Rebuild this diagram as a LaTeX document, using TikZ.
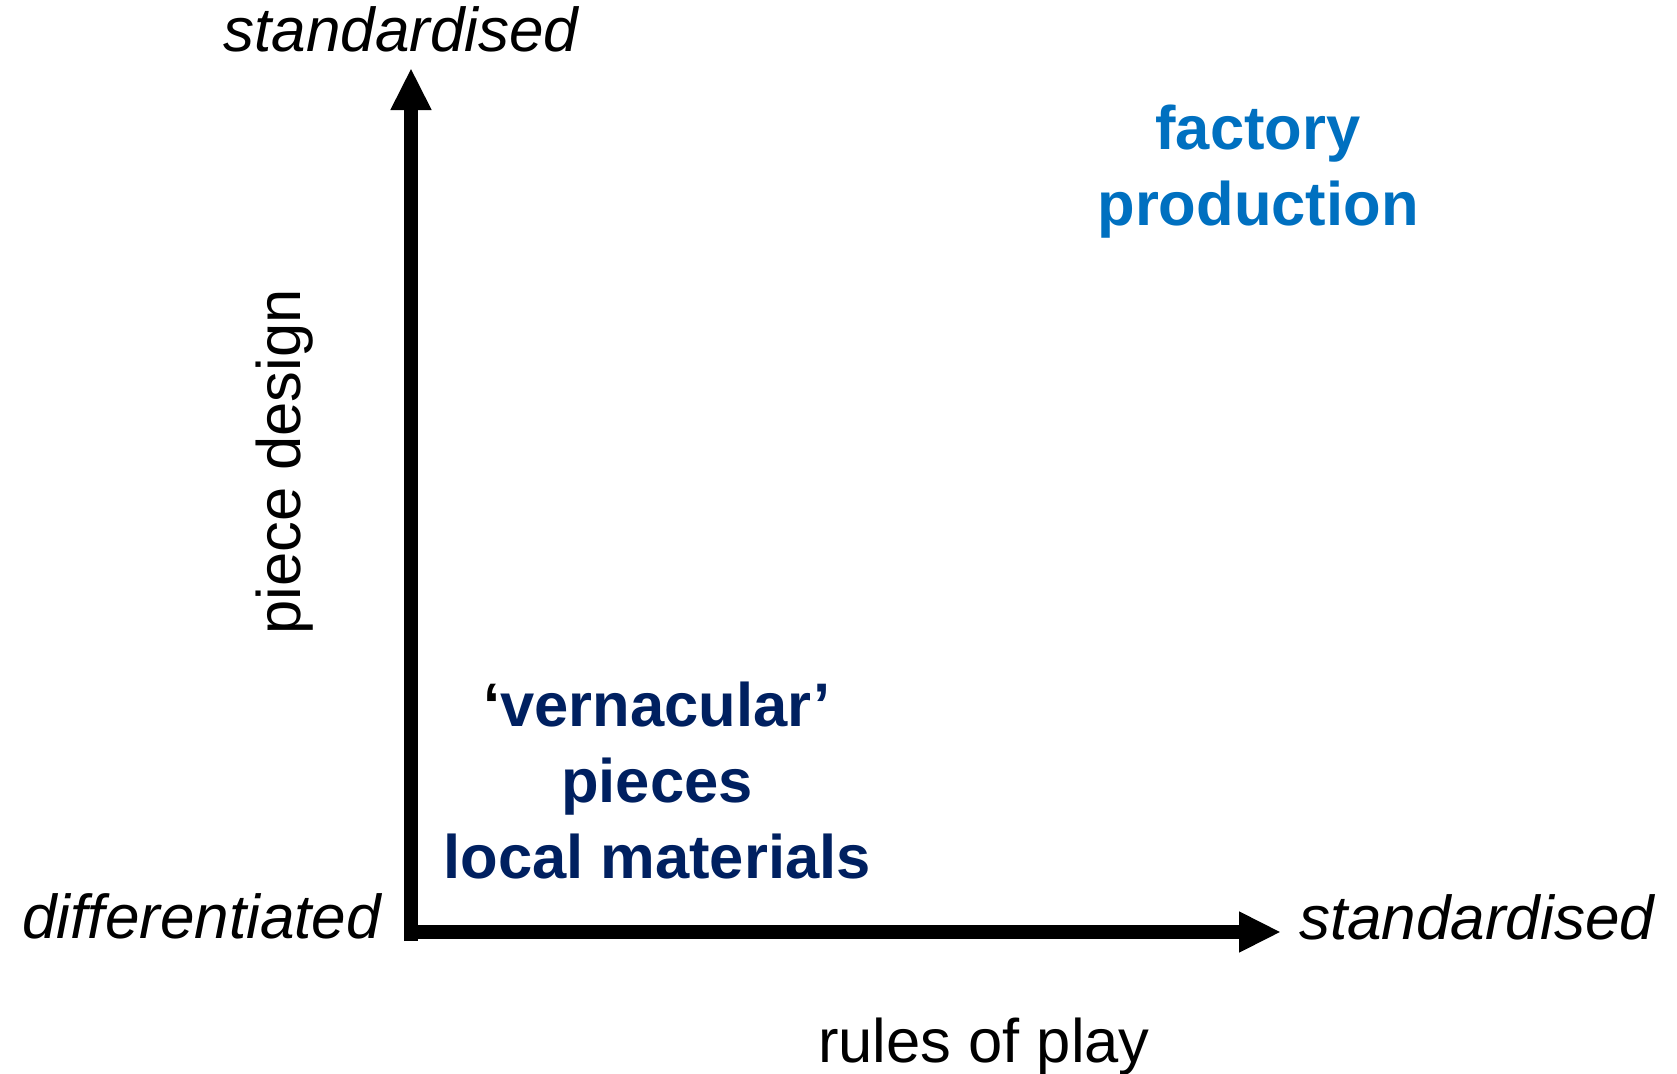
\documentclass[tikz,border=0pt]{standalone}
\usepackage{fontspec}
\setmainfont{Liberation Sans}
\usepackage{tikz}
\definecolor{factoryblue}{RGB}{0,112,192}
\definecolor{localnavy}{RGB}{0,32,96}
\tikzset{axisline/.style={line width=14pt,-{Triangle[length=42pt,width=38pt]}},
         endlabel/.style={font=\fontsize{62}{76}\selectfont\itshape,inner sep=0pt},
         axisname/.style={font=\fontsize{61.5}{76}\selectfont,inner sep=0pt},
         regionlabel/.style={font=\fontsize{61.5}{76}\selectfont\bfseries,align=center,inner sep=0pt,text=#1},
         regionlabel/.default=localnavy}
\usetikzlibrary{arrows.meta}

\begin{document}
\begin{tikzpicture}[x=1pt,y=-1pt]
\useasboundingbox (0,0) rectangle (1677,1073);
\coordinate (origin) at (411,941);
\coordinate (corner) at (404,932);
\coordinate (ytip) at (411,68);
\coordinate (xtip) at (1281,932);

%%the two axes
\draw[axisline] (origin) -- (ytip);
\draw[axisline] (corner) -- (xtip);

%%ends of the axes
\node[endlabel,anchor=base] (ytop) at (401,52) {standardised};
\node[endlabel,anchor=base east] (xleft) at (381,938) {differentiated};
\node[endlabel,anchor=base west] (xright) at (1299,939) {standardised};

%%names of the axes
\node[axisname,rotate=90,anchor=base] (yname) at (300,462) {piece design};
\node[axisname,anchor=base] (xname) at (984,1062) {rules of play};

%%regions, anchored at the baseline of the last line
\node[regionlabel=factoryblue,anchor=base] (factory) at (1258,225) {factory\\production};
\node[regionlabel,anchor=base] (vernacular) at (657,878) {{\color{black}‘}vernacular’\\pieces\\local materials};
\end{tikzpicture}
\end{document}
